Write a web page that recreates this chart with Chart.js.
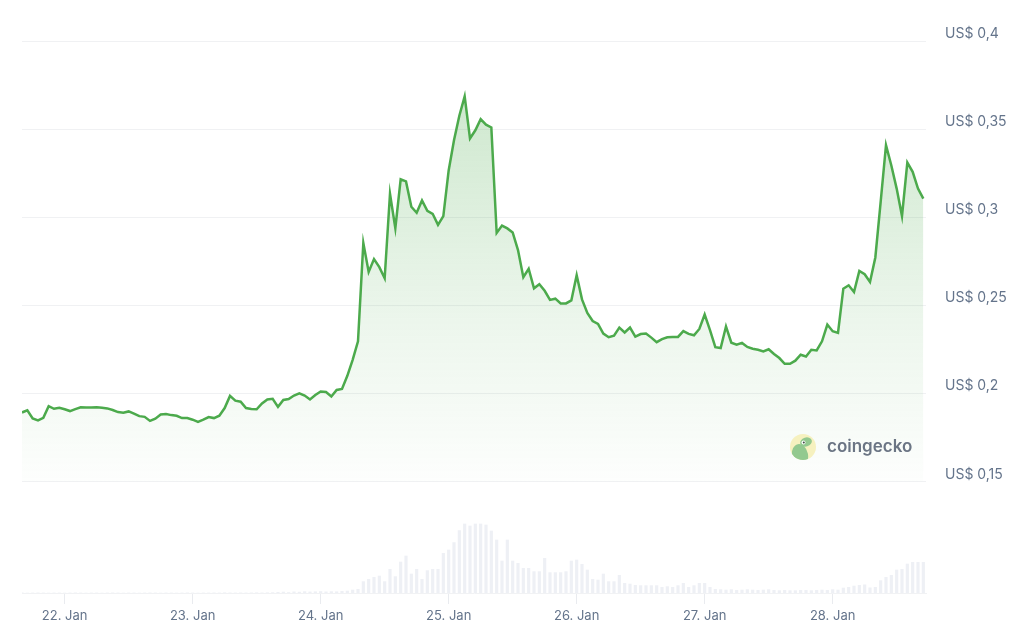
<!DOCTYPE html>
<html lang="en">
<head>
  <meta charset="UTF-8">
  <title>Price chart</title>
  <script src="https://cdn.jsdelivr.net/npm/chart.js"></script>
  <style>
    html, body { margin: 0; padding: 0; background: #ffffff; }
    #box { width: 1024px; height: 641px; position: relative; }
  </style>
</head>
<body>
  <div id="box"><canvas id="grafico"></canvas></div>

<script>
  // hourly prices, first point 21. Jan 16:00
  var prices = [
    0.1891, 0.1903, 0.1857, 0.1846, 0.1861, 0.1927, 0.1912, 0.1918, 0.1909, 0.1899,
    0.1910, 0.1920, 0.1919, 0.1919, 0.1920, 0.1918, 0.1914, 0.1905, 0.1893, 0.1890,
    0.1897, 0.1885, 0.1870, 0.1866, 0.1843, 0.1856, 0.1879, 0.1882, 0.1876, 0.1872,
    0.1859, 0.1859, 0.1850, 0.1838, 0.1850, 0.1865, 0.1859, 0.1873, 0.1916, 0.1985,
    0.1958, 0.1952, 0.1916, 0.1911, 0.1909, 0.1942, 0.1965, 0.1969, 0.1923, 0.1962,
    0.1967, 0.1987, 0.2000, 0.1987, 0.1965, 0.1990, 0.2010, 0.2007, 0.1982, 0.2019,
    0.2025, 0.2099, 0.2190, 0.2295, 0.2853, 0.2689, 0.2762, 0.2716, 0.2653, 0.3133,
    0.2937, 0.3215, 0.3203, 0.3059, 0.3025, 0.3095, 0.3036, 0.3019, 0.2956, 0.3006,
    0.3265, 0.3436, 0.3576, 0.3686, 0.3447, 0.3493, 0.3556, 0.3525, 0.3509, 0.2910,
    0.2952, 0.2936, 0.2913, 0.2813, 0.2659, 0.2707, 0.2596, 0.2619, 0.2582, 0.2530,
    0.2537, 0.2510, 0.2510, 0.2527, 0.2670, 0.2533, 0.2456, 0.2410, 0.2394, 0.2339,
    0.2318, 0.2327, 0.2373, 0.2345, 0.2373, 0.2322, 0.2336, 0.2339, 0.2316, 0.2290,
    0.2307, 0.2318, 0.2320, 0.2320, 0.2353, 0.2337, 0.2329, 0.2365, 0.2447, 0.2359,
    0.2262, 0.2257, 0.2379, 0.2287, 0.2276, 0.2286, 0.2263, 0.2253, 0.2247, 0.2238,
    0.2250, 0.2223, 0.2200, 0.2167, 0.2167, 0.2185, 0.2219, 0.2209, 0.2247, 0.2243,
    0.2295, 0.2390, 0.2352, 0.2343, 0.2594, 0.2613, 0.2575, 0.2695, 0.2676, 0.2632,
    0.2771, 0.3087, 0.3409, 0.3293, 0.3162, 0.3006, 0.3310, 0.3257, 0.3162, 0.3105
  ];

  // hourly volume (relative units)
  var volumes = [
    0.4, 0.3, 0.4, 0.5, 0.4, 0.3, 0.4, 0.4, 0.3, 0.4,
    0.5, 0.4, 0.3, 0.4, 0.4, 0.3, 0.4, 0.5, 0.4, 0.3,
    0.4, 0.4, 0.3, 0.4, 0.5, 0.4, 0.3, 0.4, 0.4, 0.3,
    0.4, 0.5, 0.4, 0.3, 0.4, 0.4, 0.5, 0.4, 0.6, 0.5,
    0.4, 0.5, 0.4, 0.5, 0.6, 0.5, 0.6, 0.7, 1.0, 1.3,
    0.8, 1.5, 1.2, 1.7, 1.4, 1.6, 1.8, 1.5, 1.7, 1.6,
    2.0, 2.3, 3.3, 4.0, 11.7, 14.0, 16.0, 17.3, 11.7, 24.0,
    16.7, 31.3, 37.3, 19.3, 24.0, 14.0, 22.7, 24.0, 24.0, 40.0,
    43.3, 50.7, 62.7, 69.3, 67.3, 69.3, 69.3, 68.3, 62.3, 53.3,
    32.3, 53.3, 32.3, 30.0, 25.0, 25.0, 21.7, 21.7, 35.0, 20.7,
    20.7, 20.7, 21.7, 32.3, 33.3, 29.0, 23.3, 14.0, 13.3, 19.3,
    11.7, 11.7, 18.0, 10.0, 9.3, 8.0, 7.7, 7.7, 7.7, 7.7,
    6.0, 6.7, 6.0, 7.7, 10.0, 6.0, 7.7, 10.0, 10.0, 6.0,
    4.0, 3.7, 3.3, 3.7, 3.0, 3.3, 3.7, 3.3, 3.0, 3.3,
    3.7, 3.0, 2.7, 3.0, 2.7, 2.7, 3.0, 3.0, 2.7, 3.0,
    3.3, 3.0, 3.7, 3.3, 5.3, 6.0, 7.3, 8.0, 8.5, 5.5,
    6.0, 12.7, 16.0, 18.0, 23.3, 24.0, 29.3, 31.0, 31.0, 31.0
  ];

  var firstHour = -8; // hours relative to 22. Jan 00:00
  var dayLabels = ['22. Jan', '23. Jan', '24. Jan', '25. Jan', '26. Jan', '27. Jan', '28. Jan'];
  var priceTicks = [0.15, 0.2, 0.25, 0.3, 0.35, 0.4];
  var priceTickLabels = ['US$ 0,15', 'US$ 0,2', 'US$ 0,25', 'US$ 0,3', 'US$ 0,35', 'US$ 0,4'];

  var pricePoints = prices.map((p, i) => ({ x: firstHour + i, y: p }));
  var volumePoints = volumes.map((v, i) => ({ x: firstHour + i, y: v }));

  Chart.defaults.font.family = 'Inter, "Noto Sans", sans-serif';
  Chart.defaults.color = '#64748b';

  // marca d'agua
  var logoPlugin = {
    id: 'logo',
    afterDatasetsDraw(chart) {
      var c = chart.ctx;
      c.save();
      c.beginPath();
      c.arc(803, 447, 13, 0, Math.PI * 2);
      c.fillStyle = '#f6f1bf';
      c.fill();
      c.clip();
      c.beginPath();
      c.ellipse(800, 455, 8, 11, -0.2, 0, Math.PI * 2);
      c.fillStyle = '#93c98f';
      c.fill();
      c.beginPath();
      c.ellipse(806, 442, 6, 4.5, -0.3, 0, Math.PI * 2);
      c.fill();
      c.beginPath();
      c.arc(803.5, 442.5, 2, 0, Math.PI * 2);
      c.fillStyle = '#ffffff';
      c.fill();
      c.beginPath();
      c.arc(803.8, 442.5, 1, 0, Math.PI * 2);
      c.fillStyle = '#3d4a40';
      c.fill();
      c.restore();

      c.save();
      c.font = '600 17px Inter, sans-serif';
      c.fillStyle = '#6b7584';
      c.textBaseline = 'middle';
      c.fillText('coingecko', 827, 447);
      c.restore();
    }
  };

  var ctx = document.getElementById('grafico').getContext('2d');

  new Chart(ctx, {
    data: {
      datasets: [
        {
          type: 'line',
          label: 'Preço',
          data: pricePoints,
          yAxisID: 'y',
          borderColor: '#4caa4c',
          borderWidth: 2.5,
          pointRadius: 0,
          tension: 0,
          fill: { value: 0.15 },
          backgroundColor: function (context) {
            var chart = context.chart;
            if (!chart.chartArea) return 'rgba(76,170,76,0.1)';
            var top = chart.scales.y.getPixelForValue(0.37);
            var bottom = chart.scales.y.getPixelForValue(0.15);
            var g = chart.ctx.createLinearGradient(0, top, 0, bottom);
            g.addColorStop(0, 'rgba(76,170,76,0.27)');
            g.addColorStop(0.6, 'rgba(76,170,76,0.10)');
            g.addColorStop(1, 'rgba(76,170,76,0.01)');
            return g;
          },
          order: 1
        },
        {
          type: 'bar',
          label: 'Volume',
          data: volumePoints,
          yAxisID: 'yVol',
          backgroundColor: '#eef0f5',
          categoryPercentage: 1,
          barPercentage: 0.6,
          order: 2
        }
      ]
    },
    options: {
      responsive: true,
      maintainAspectRatio: false,
      animation: false,
      layout: { padding: { top: 41, left: 22, right: 0, bottom: 0 } },
      plugins: {
        legend: { display: false },
        tooltip: { enabled: false }
      },
      scales: {
        x: {
          type: 'linear',
          offset: false,
          min: -8,
          max: 161.5,
          afterBuildTicks: function (scale) {
            scale.ticks = dayLabels.map((d, i) => ({ value: i * 24 }));
          },
          afterFit: function (scale) { scale.height = 48; },
          ticks: {
            callback: function (value, index) { return dayLabels[index]; },
            font: { size: 13 },
            color: '#64748b',
            padding: 4,
            maxRotation: 0,
            autoSkip: false
          },
          grid: {
            offset: false,
            drawOnChartArea: false,
            drawTicks: true,
            tickLength: 11,
            color: '#e9ebef'
          },
          border: { display: true, color: '#f1f2f4' }
        },
        y: {
          type: 'linear',
          position: 'right',
          min: 0.0866,
          max: 0.4,
          afterBuildTicks: function (scale) {
            scale.ticks = priceTicks.map(v => ({ value: v }));
          },
          afterFit: function (scale) { scale.width = 98; },
          ticks: {
            callback: function (value, index) { return priceTickLabels[index]; },
            font: { size: 14 },
            color: '#64748b',
            padding: 19,
            labelOffset: -7
          },
          grid: {
            color: '#f0f1f3',
            drawTicks: false
          },
          border: { display: false }
        },
        yVol: {
          type: 'linear',
          display: false,
          min: 0,
          max: 551.5,
          grid: { display: false }
        }
      }
    },
    plugins: [logoPlugin]
  });
</script>
</body>
</html>
